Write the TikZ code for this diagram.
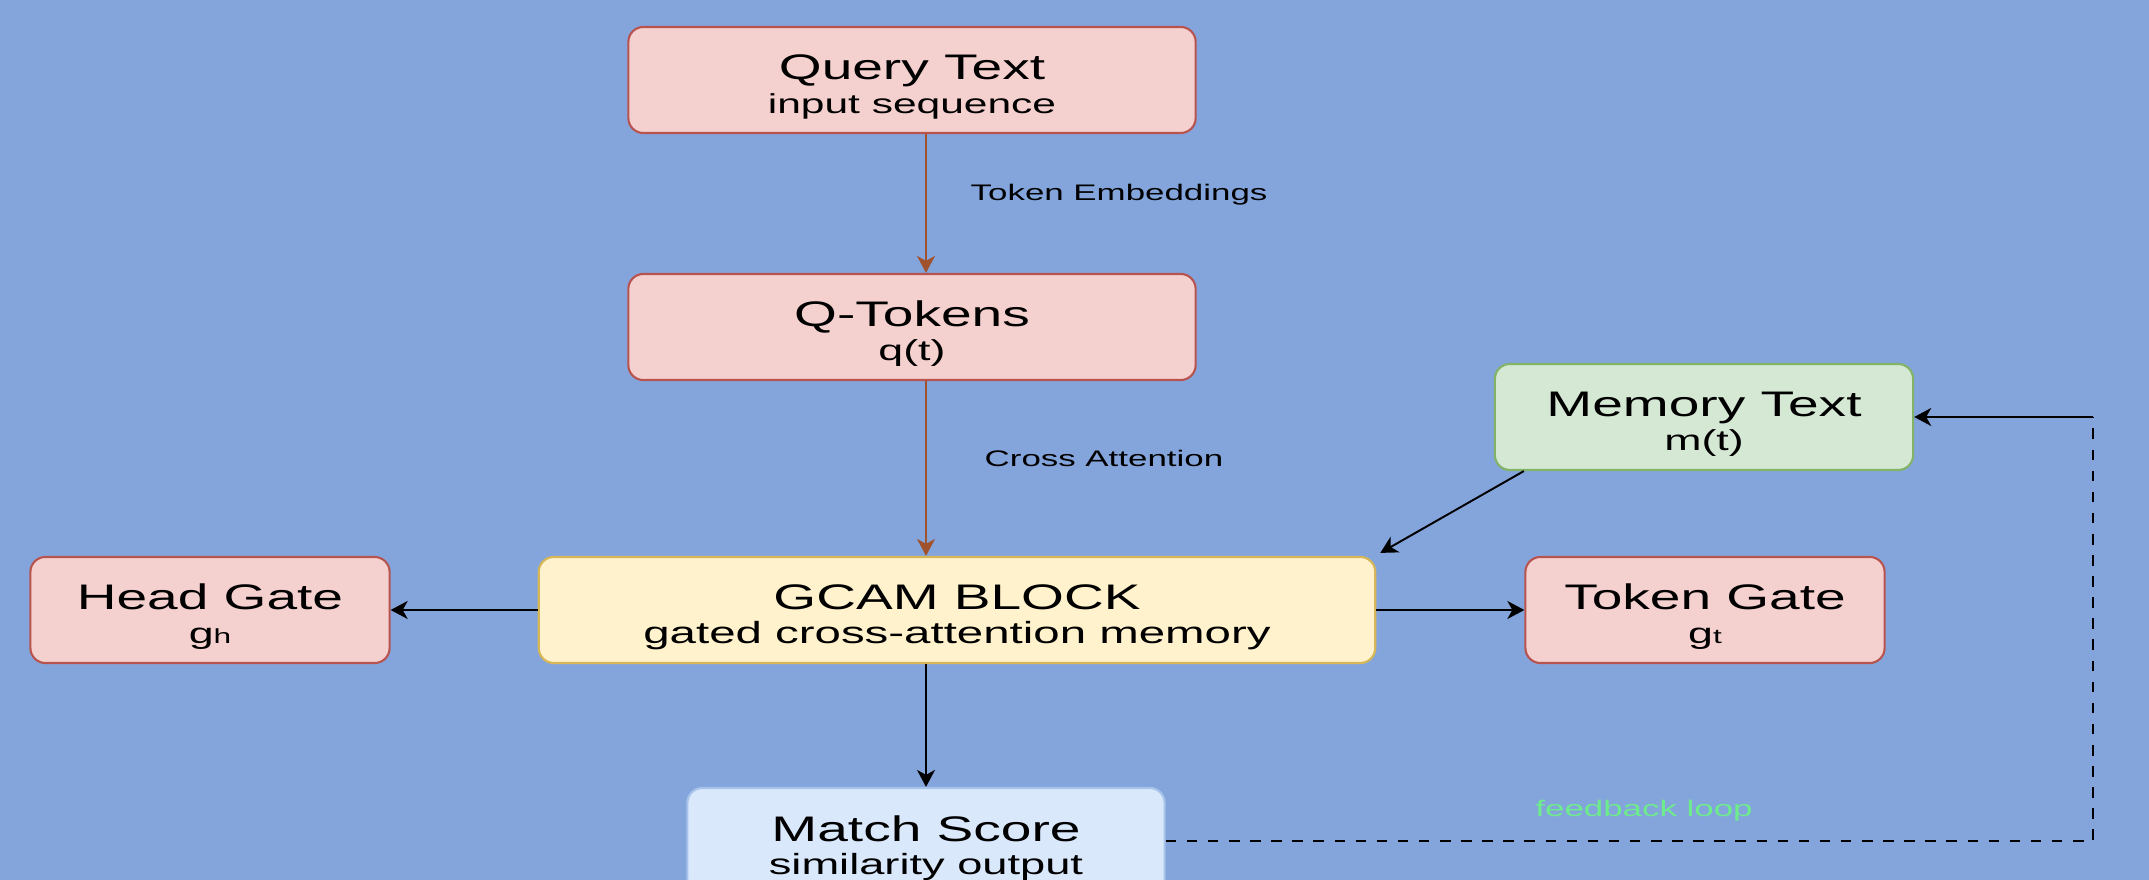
\documentclass[tikz,border=0pt]{standalone}
\usepackage{fontspec}
\setmainfont{Liberation Sans}[FakeStretch=1.55]
\usepackage{xcolor}
\usetikzlibrary{arrows.meta,calc}

\definecolor{bgblue}{RGB}{132,165,219}
\definecolor{redfill}{HTML}{F4D0CE}
\definecolor{redline}{HTML}{B85450}
\definecolor{greenfill}{HTML}{D5E8D4}
\definecolor{greenline}{HTML}{82B366}
\definecolor{yellowfill}{HTML}{FFF2CC}
\definecolor{yellowline}{HTML}{D6B656}
\definecolor{bluefill}{HTML}{DAE8FC}
\definecolor{blueline}{HTML}{A9C4EB}
\definecolor{brownarrow}{RGB}{160,82,45}
\definecolor{loopgreen}{RGB}{110,235,140}

\newcommand{\subline}[2][8.2]{{\fontsize{#1}{9.6}\selectfont #2}}
\newcommand{\gatesub}[1]{{\fontsize{5.8}{9.6}\selectfont #1}}

\begin{document}
\begin{tikzpicture}[
    x=0.01cm, y=-0.01cm,
    box/.style={rectangle, rounded corners=0.15cm, draw, line width=0.6pt,
        minimum height=1.06cm, text height=19.2pt, text depth=0pt, align=center,
        font=\fontsize{10.1}{9.6}\selectfont},
    redbox/.style={box, fill=redfill, draw=redline},
    greenbox/.style={box, fill=greenfill, draw=greenline},
    yellowbox/.style={box, fill=yellowfill, draw=yellowline},
    bluebox/.style={box, fill=bluefill, draw=blueline},
    link/.style={-{Stealth[length=0.17cm, width=0.18cm, inset=0.05cm]}, line width=0.55pt},
    brownlink/.style={link, draw=brownarrow, -{Stealth[length=0.17cm, width=0.18cm, inset=0.05cm, fill=brownarrow]}},
    edgelabel/.style={font=\fontsize{6.4}{8}\selectfont, anchor=west, inner sep=0pt}
]
    \clip (0,0) rectangle (2149,880);
    \fill[bgblue] (0,0) rectangle (2149,880);

    \node[redbox, minimum width=5.67cm] (query) at (912,80) {Query Text\\\subline[7.8]{input sequence}};
    \node[redbox, minimum width=5.67cm] (qtok) at (912,327) {Q-Tokens\\\subline{q(t)}};
    \node[greenbox, minimum width=4.18cm] (memory) at (1704,417) {Memory Text\\\subline{m(t)}};
    \node[yellowbox, minimum width=8.36cm] (gcam) at (957,610) {GCAM BLOCK\\\subline[8.7]{gated cross-attention memory}};
    \node[redbox, minimum width=3.59cm] (headgate) at (210,610) {Head Gate\\\subline{g\gatesub{h}}};
    \node[redbox, minimum width=3.59cm] (tokgate) at (1705,610) {Token Gate\\\subline{g\gatesub{t}}};
    \node[bluebox, minimum width=4.77cm] (score) at (926,841) {Match Score\\\subline[8.3]{similarity output}};

    \draw[brownlink] (query.south -| score) -- (qtok.north -| score);
    \draw[brownlink] (qtok.south -| score) -- (gcam.north -| score);
    \draw[link] (gcam.west) -- (headgate.east);
    \draw[link] (gcam.east) -- (tokgate.west);
    \draw[link] (gcam.south -| score) -- (score.north);
    \draw[link] ([xshift=0.3cm]memory.south west) -- ([xshift=0.04cm, yshift=0.03cm]gcam.north east);

    \coordinate (fbturn) at (2093,417);
    \draw[line width=0.55pt, dash pattern=on 3pt off 3pt] (score.east) -| (fbturn);
    \draw[link] (fbturn) -- (memory.east);

    \node[edgelabel] (embedlbl) at (970,195) {Token Embeddings};
    \node[edgelabel] (xattnlbl) at (984,458) {Cross Attention};
    \node[edgelabel, anchor=center, text=loopgreen] (looplbl) at (1644,811) {feedback loop};
\end{tikzpicture}
\end{document}
